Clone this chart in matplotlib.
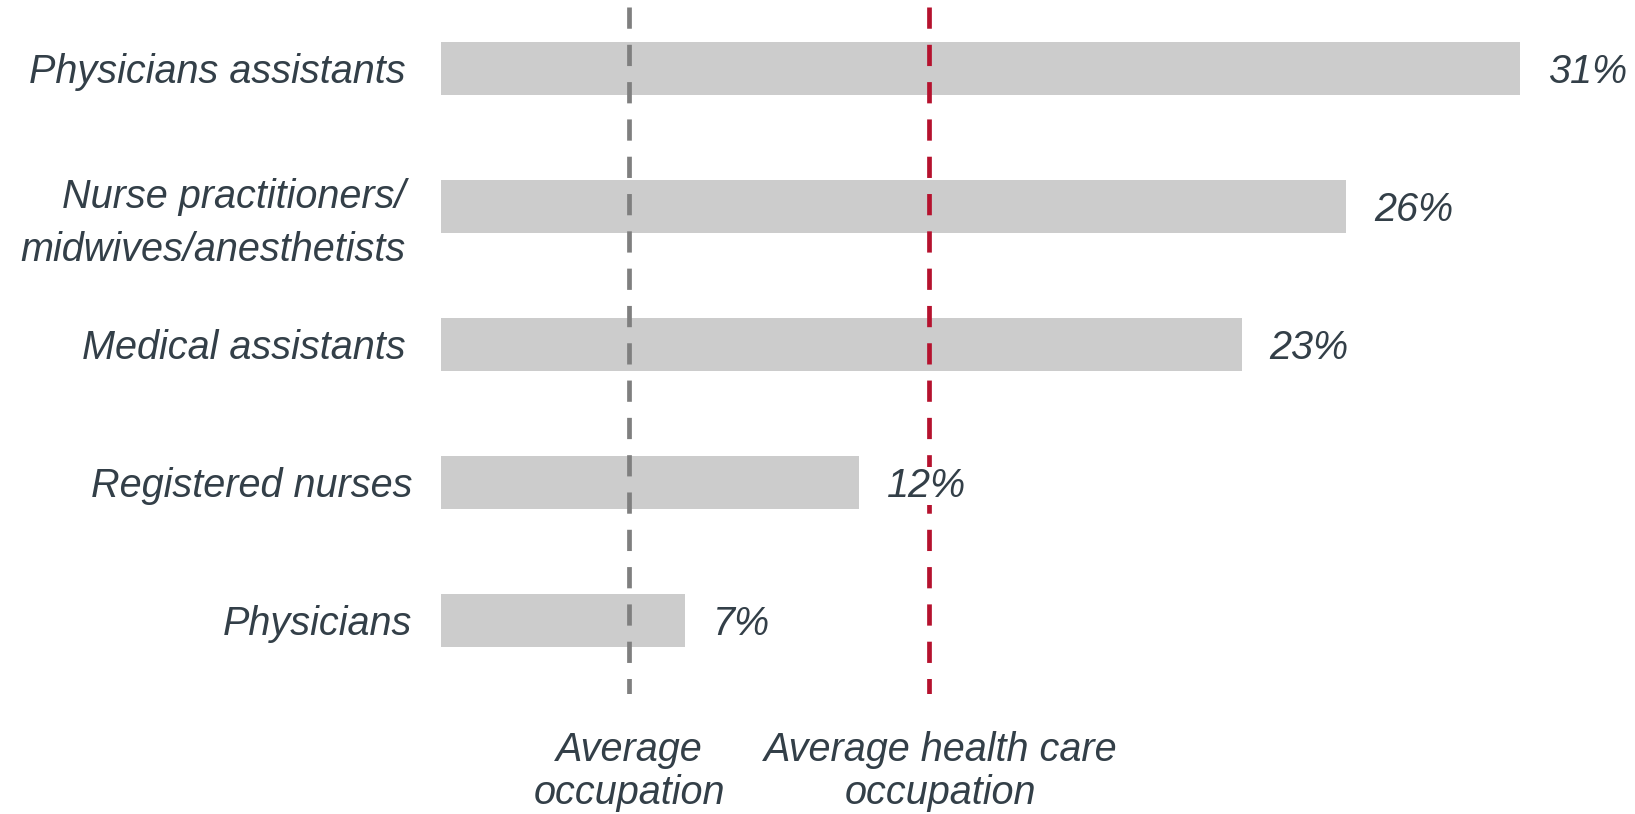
import matplotlib.pyplot as plt
from matplotlib.transforms import ScaledTranslation

plt.rcParams["font.family"] = ["Liberation Sans", "DejaVu Sans"]

occupations = [
    "Physicians assistants",
    "Nurse practitioners/\nmidwives/anesthetists",
    "Medical assistants",
    "Registered nurses",
    "Physicians",
]
shares = [31, 26, 23, 12, 7]
avg_all = 5.4          # average occupation
avg_health = 14.0      # average health care occupation
ref_labels = ["Average\noccupation", "Average health care\noccupation"]

text_col = "#333F48"
fs = 28.5

fig = plt.figure(figsize=(16.35, 8.14), dpi=100)
ax = fig.add_axes([0.27, 0.1474, 0.7236, 0.8436])

ypos = list(range(len(occupations)))
ax.barh(ypos, shares, height=0.385, color="#CCCCCC", zorder=1)

for y, v in zip(ypos, shares):
    ax.annotate(f"{v}%", (v, y), xytext=(20, -3), textcoords="offset points",
                ha="left", va="center", fontsize=fs, style="italic",
                color=text_col, zorder=4,
                bbox=dict(facecolor="white", edgecolor="none", pad=0))

# reference lines, dash pattern starting from the top
xt = ax.get_xaxis_transform()
ax.plot([avg_all, avg_all], [1, 0], transform=xt, color="#7F7F7F",
        lw=3.4, dashes=(4.5, 3.4), zorder=2)
ax.plot([avg_health, avg_health], [1, 0], transform=xt, color="#B5122E",
        lw=3.4, dashes=(4.5, 3.4), zorder=2)

ax.set_xlim(0, 34)
ax.set_ylim(4.534, -0.441)
ax.set_yticks(ypos)
ax.set_yticklabels(occupations, fontsize=fs, style="italic", color=text_col,
                   linespacing=1.5)
ax.tick_params(axis="y", length=0, pad=26)
ax.set_xticks([])
for s in ax.spines.values():
    s.set_visible(False)

# small nudges on a few category labels
nudges = {1: (0, -4), 3: (5, 0), 4: (5, 0)}
for i, lbl in enumerate(ax.get_yticklabels()):
    if i in nudges:
        dx, dy = nudges[i]
        lbl.set_transform(lbl.get_transform() +
                          ScaledTranslation(dx / 72, dy / 72, fig.dpi_scale_trans))

for x, lab in zip([avg_all, avg_health + 0.35], ref_labels):
    ax.text(x, 4.80, lab, ha="center", va="top", fontsize=fs, style="italic",
            color=text_col, linespacing=1.18, clip_on=False)

fig.savefig("out.png", dpi=100)
